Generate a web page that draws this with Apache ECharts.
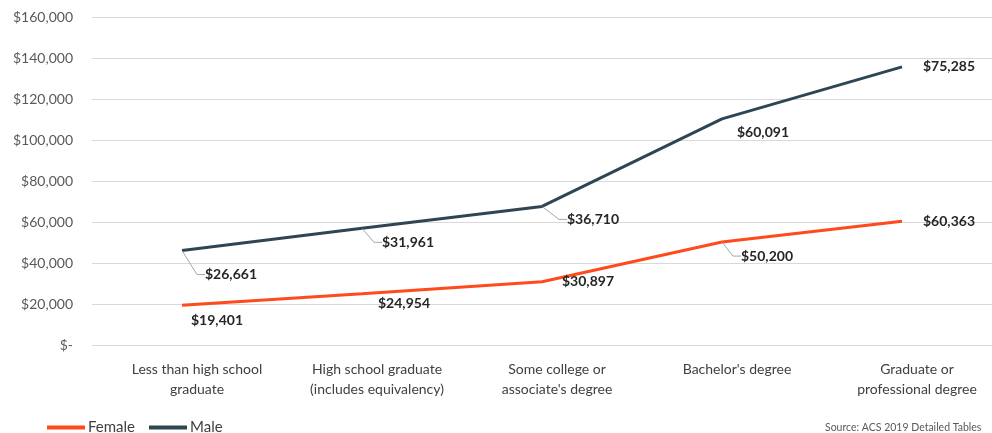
<!DOCTYPE html>
<html>
<head>
<meta charset="utf-8">
<script src="https://cdn.jsdelivr.net/npm/echarts@6/dist/echarts.min.js"></script>
<style>
    html, body { margin: 0; padding: 0; background: #fff; }
    #chart { width: 992px; height: 433px; }
</style>
</head>
<body>
<div id="chart"></div>
<script>
    const categories = [
        'Less than high school\ngraduate',
        'High school graduate\n(includes equivalency)',
        'Some college or\nassociate\'s degree',
        'Bachelor\'s degree',
        'Graduate or\nprofessional degree'
    ];
    const female = [19401, 24954, 30897, 50200, 60363];
    const male = [26661, 31961, 36710, 60091, 75285];

    // label placement (offset of label centre from the point) and which ones get a leader
    const femaleOffsets = [[35, 15], [42, 10], [46, 0], [45, 14], [47, 0]];
    const maleOffsets = [[49, 24], [46, 14], [51, 13], [41, 14], [47, 0]];
    const femaleLeaders = [false, false, false, true, false];
    const maleLeaders = [true, true, true, false, false];

    const FEMALE_COLOR = '#ff4a1c';
    const MALE_COLOR = '#2e4653';
    const FONT = 'Lato, "Liberation Sans", sans-serif';
    const money = (v) => '$' + Number(v).toLocaleString('en-US');

    function buildData(values, leaders) {
        return values.map((v, i) => ({ value: v, labelLine: { show: leaders[i] } }));
    }

    function makeSeries(name, values, color, offsets, leaders) {
        return {
            name: name,
            type: 'line',
            stack: 'total',
            data: buildData(values, leaders),
            symbol: 'circle',
            symbolSize: 1,
            itemStyle: { color: 'rgba(0,0,0,0)' },
            lineStyle: { color: color, width: 3 },
            label: {
                show: true,
                position: 'inside',
                formatter: (p) => money(p.value),
                color: '#262626',
                fontFamily: FONT,
                fontWeight: 'bold',
                fontSize: 14
            },
            labelLayout: function (p) {
                const o = offsets[p.dataIndex];
                return { dx: o[0], dy: o[1] };
            },
            labelLine: {
                show: true,
                length2: 8,
                smooth: false,
                lineStyle: { color: '#a6a6a6', width: 1 }
            },
            emphasis: { disabled: true }
        };
    }

    const chart = echarts.init(document.getElementById('chart'));
    chart.setOption({
        animation: false,
        backgroundColor: '#fff',
        legend: {
            left: 42,
            top: 415,
            itemWidth: 38,
            itemHeight: 4,
            itemGap: 14,
            icon: 'rect',
            textStyle: { fontFamily: FONT, fontSize: 15, color: '#404040', padding: [0, 0, 0, -2] },
            data: [
                { name: 'Female', itemStyle: { color: FEMALE_COLOR } },
                { name: 'Male', itemStyle: { color: MALE_COLOR } }
            ]
        },
        grid: { left: 92, top: 17, bottom: 88, width: 908 },
        xAxis: {
            type: 'category',
            data: categories,
            boundaryGap: true,
            axisLine: { show: false },
            axisTick: { show: false },
            axisLabel: {
                interval: 0,
                margin: 14,
                color: '#404040',
                fontFamily: FONT,
                fontSize: 14,
                lineHeight: 20,
                padding: [0, 0, 0, 30]
            }
        },
        yAxis: {
            type: 'value',
            min: 0,
            max: 160000,
            interval: 20000,
            axisLine: { show: false },
            axisTick: { show: false },
            splitLine: { lineStyle: { color: '#d9d9d9', width: 1 } },
            axisLabel: {
                margin: 19,
                color: '#595959',
                fontFamily: FONT,
                fontSize: 14,
                formatter: (v) => (v === 0 ? '$-' : money(v))
            }
        },
        graphic: [{
            type: 'text',
            left: 825,
            top: 422,
            style: {
                text: 'Source: ACS 2019 Detailed Tables',
                fontFamily: FONT,
                fontSize: 10.5,
                fill: '#595959'
            }
        }],
        series: [
            makeSeries('Female', female, FEMALE_COLOR, femaleOffsets, femaleLeaders),
            makeSeries('Male', male, MALE_COLOR, maleOffsets, maleLeaders)
        ]
    });
</script>
</body>
</html>
